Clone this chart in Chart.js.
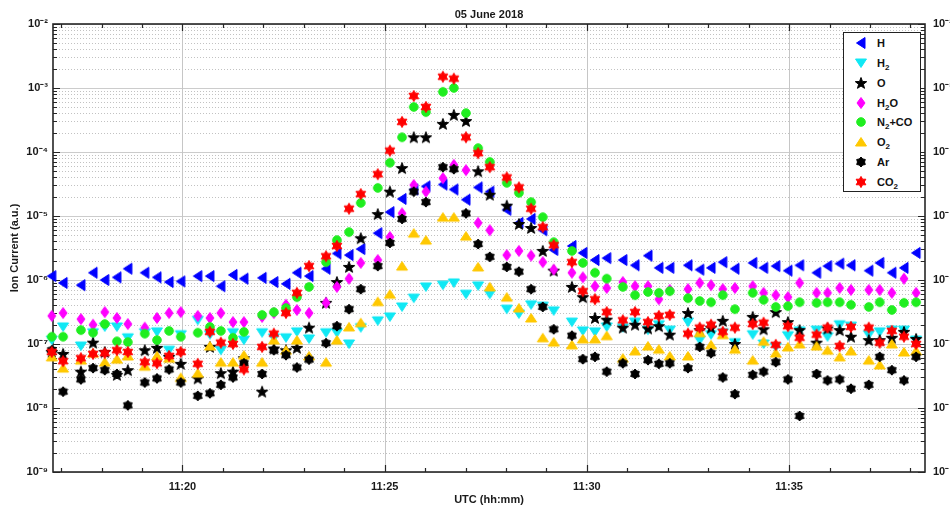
<!DOCTYPE html>
<html>
<head>
<meta charset="utf-8">
<script src="https://cdn.jsdelivr.net/npm/chart.js@4.4.1/dist/chart.umd.min.js"></script>
<style>
  html, body { margin: 0; padding: 0; background: #fff; }
  #wrap { position: relative; width: 950px; height: 511px; }
  #legend {
    position: absolute; left: 843px; top: 32px; width: 76px; height: 158px;
    border: 1.5px solid #222; background: #fff;
    font: bold 11px "Liberation Sans", Arial, sans-serif; color: #111;
  }
  .item { position: absolute; left: 0; width: 76px; height: 16px; line-height: 16px; }
  .item canvas { position: absolute; left: 10px; top: 1px; }
  .item span { position: absolute; left: 33px; white-space: nowrap; }
  sub { font-size: 8px; vertical-align: -3px; line-height: 0; }
</style>
</head>
<body>
<div id="wrap">
  <canvas id="ionChart" width="950" height="511"></canvas>
  <div id="legend"></div>
</div>
<script>
// sample times, minutes past 11:00 UTC
const minutes = [
    16.77, 17.05, 17.49, 17.79, 18.08, 18.38, 18.65, 19.07, 19.37, 19.67,
    19.96, 20.38, 20.68, 20.95, 21.25, 21.52, 21.97, 22.26, 22.56, 22.83,
    23.13, 23.55, 23.82, 24.12, 24.41, 24.83, 25.13, 25.43, 25.72, 26.02,
    26.44, 26.71, 27.01, 27.31, 27.60, 28.02, 28.32, 28.62, 28.91, 29.18,
    29.63, 29.90, 30.20, 30.49, 30.89, 31.19, 31.51, 31.78, 32.05, 32.50,
    32.79, 33.07, 33.36, 33.66, 34.10, 34.37, 34.67, 34.97, 35.26, 35.68,
    35.95, 36.25, 36.53, 36.97, 37.24, 37.54, 37.84, 38.14
];

const seriesNames = ['H', 'H2', 'O', 'H2O', 'N2+CO', 'O2', 'Ar', 'CO2'];

const ionH = [
    1.15e-6, 9.0e-7, 8.3e-7, 1.3e-6, 1.0e-6, 1.1e-6, 1.5e-6, 1.3e-6, 1.1e-6, 9.3e-7,
    9.5e-7, 1.15e-6, 1.15e-6, 8.0e-7, 1.2e-6, 1.05e-6, 1.08e-6, 9.3e-7, 8.7e-7, 1.3e-6,
    1.15e-6, 1.5e-6, 2.6e-6, 2.45e-6, 3.05e-6, 5.4e-6, 1.15e-5, 1.85e-5, 2.6e-5, 2.9e-5,
    3.1e-5, 2.6e-5, 1.8e-5, 2.8e-5, 2.4e-5, 1.25e-5, 7.8e-6, 9.0e-6, 6.0e-6, 2.95e-6,
    3.4e-6, 2.65e-6, 2.05e-6, 2.2e-6, 2.05e-6, 1.7e-6, 2.4e-6, 1.55e-6, 1.55e-6, 1.7e-6,
    1.45e-6, 1.55e-6, 1.9e-6, 1.5e-6, 1.85e-6, 1.55e-6, 1.65e-6, 1.4e-6, 1.7e-6, 1.3e-6,
    1.65e-6, 1.8e-6, 1.7e-6, 1.4e-6, 1.85e-6, 1.3e-6, 1.55e-6, 2.65e-6
];
const ionH2 = [
    1.15e-7, 1.85e-7, 9.3e-8, 1.5e-7, 1.85e-7, 1.85e-7, 1.25e-7, 1.5e-7, 1.55e-7, 8.0e-8,
    1.4e-7, 2.35e-7, 1.4e-7, 8.0e-8, 1.5e-7, 1.15e-7, 1.5e-7, 1.25e-7, 1.25e-7, 1.55e-7,
    1.2e-7, 1.5e-7, 1.5e-7, 1.0e-7, 1.8e-7, 2.3e-7, 2.65e-7, 3.8e-7, 5.2e-7, 7.8e-7,
    8.3e-7, 9.0e-7, 6.0e-7, 8.1e-7, 6.0e-7, 3.5e-7, 2.95e-7, 4.1e-7, 3.9e-7, 3.3e-7,
    2.2e-7, 1.6e-7, 1.55e-7, 1.85e-7, 1.8e-7, 2.2e-7, 1.65e-7, 2.0e-7, 1.65e-7, 2.2e-7,
    1.15e-7, 1.4e-7, 1.5e-7, 1.05e-7, 1.4e-7, 1.0e-7, 9.0e-8, 1.35e-7, 1.6e-7, 1.65e-7,
    1.3e-7, 2.0e-7, 1.9e-7, 1.4e-7, 1.55e-7, 1.65e-7, 1.65e-7, 1.15e-7
];
const ionO = [
    7.5e-8, 7.0e-8, 3.7e-8, 1.05e-7, 7.5e-8, 3.3e-8, 3.9e-8, 8.0e-8, 8.7e-8, 6.3e-8,
    4.9e-8, 2.9e-8, 9.0e-8, 3.5e-8, 3.7e-8, 6.0e-8, 1.8e-8, 8.5e-8, 8.0e-8, 8.7e-8,
    1.8e-7, 4.4e-7, 9.3e-7, 1.6e-6, 4.5e-6, 1.07e-5, 2.4e-5, 5.6e-5, 1.7e-4, 1.7e-4,
    2.75e-4, 3.8e-4, 3.05e-4, 5.0e-5, 2.15e-5, 1.45e-5, 7.5e-6, 6.5e-6, 2.85e-6, 1.4e-6,
    7.8e-7, 5.4e-7, 2.55e-7, 2.4e-7, 1.8e-7, 2.0e-7, 1.75e-7, 1.9e-7, 1.4e-7, 3.05e-7,
    1.65e-7, 1.8e-7, 2.3e-7, 1.0e-7, 2.65e-7, 1.7e-7, 3.15e-7, 2.2e-7, 1.65e-7, 1.05e-7,
    1.75e-7, 1.65e-7, 1.3e-7, 1.15e-7, 1.15e-7, 1.25e-7, 1.55e-7, 1.2e-7
];
const ionH2O = [
    2.75e-7, 3.05e-7, 2.45e-7, 2.0e-7, 3.15e-7, 2.55e-7, 2.05e-7, 1.8e-7, 2.55e-7, 3.05e-7,
    3.15e-7, 2.75e-7, 2.55e-7, 3.05e-7, 2.2e-7, 2.2e-7, 2.65e-7, 3.05e-7, 4.1e-7, 3.4e-7,
    3.05e-7, 4.4e-7, 7.8e-7, 1.05e-6, 1.85e-6, 2.05e-6, 4.7e-6, 1.1e-5, 3.05e-5, 2.4e-5,
    3.9e-5, 6.3e-5, 5.2e-5, 7.8e-6, 6.0e-6, 2.45e-6, 2.85e-6, 2.4e-6, 1.9e-6, 1.45e-6,
    1.3e-6, 1.1e-6, 8.0e-7, 7.5e-7, 9.3e-7, 8.0e-7, 8.0e-7, 5.0e-7, 7.0e-7, 7.2e-7,
    9.0e-7, 8.3e-7, 7.2e-7, 7.5e-7, 8.0e-7, 6.3e-7, 5.8e-7, 5.4e-7, 9.0e-7, 6.3e-7,
    6.3e-7, 7.5e-7, 7.0e-7, 7.0e-7, 7.0e-7, 6.3e-7, 1.05e-6, 6.3e-7
];
const ionN2CO = [
    1.3e-7, 1.3e-7, 1.65e-7, 1.5e-7, 2.05e-7, 1.1e-7, 1.07e-7, 1.45e-7, 1.15e-7, 1.6e-7,
    1.3e-7, 1.5e-7, 1.85e-7, 1.6e-7, 1.25e-7, 1.55e-7, 2.85e-7, 3.15e-7, 3.65e-7, 5.4e-7,
    7.8e-7, 1.9e-6, 4.2e-6, 5.6e-6, 1.6e-5, 2.75e-5, 6.8e-5, 1.7e-4, 5.05e-4, 4.2e-4,
    8.7e-4, 1.0e-3, 4.05e-4, 1.15e-4, 7.0e-5, 3.3e-5, 2.3e-5, 1.65e-5, 9.6e-6, 3.9e-6,
    2.85e-6, 1.85e-6, 1.3e-6, 1.05e-6, 7.8e-7, 5.8e-7, 6.5e-7, 6.3e-7, 6.7e-7, 5.2e-7,
    4.7e-7, 4.5e-7, 5.8e-7, 3.5e-7, 6.3e-7, 4.9e-7, 3.8e-7, 3.9e-7, 4.5e-7, 4.4e-7,
    4.5e-7, 4.5e-7, 4.1e-7, 3.8e-7, 4.5e-7, 3.4e-7, 4.4e-7, 4.5e-7
];
const ionO2 = [
    6.3e-8, 4.2e-8, 5.6e-8, 7.2e-8, 5.2e-8, 5.8e-8, 6.5e-8, 4.5e-8, 6.5e-8, 6.0e-8,
    3.0e-8, 3.5e-8, 9.3e-8, 5.2e-8, 5.2e-8, 6.7e-8, 5.2e-8, 1.15e-7, 8.0e-8, 1.15e-7,
    6.5e-8, 5.2e-8, 1.15e-7, 1.85e-7, 2.15e-7, 4.6e-7, 6.0e-7, 1.65e-6, 5.4e-6, 4.2e-6,
    9.6e-6, 9.6e-6, 4.85e-6, 1.6e-6, 7.8e-7, 5.4e-7, 3.65e-7, 2.55e-7, 1.25e-7, 1.07e-7,
    9.7e-8, 1.2e-7, 1.2e-7, 1.35e-7, 6.0e-8, 7.8e-8, 9.3e-8, 8.3e-8, 6.5e-8, 6.5e-8,
    1.5e-7, 9.7e-8, 1.4e-7, 8.3e-8, 5.6e-8, 1.1e-7, 7.2e-8, 9.0e-8, 1.0e-7, 9.3e-8,
    8.0e-8, 6.3e-8, 7.8e-8, 5.6e-8, 4.7e-8, 1.0e-7, 7.5e-8, 7.8e-8
];
const ionAr = [
    8.0e-8, 1.8e-8, 2.8e-8, 4.2e-8, 3.9e-8, 3.4e-8, 1.1e-8, 2.5e-8, 2.9e-8, 4.0e-8,
    2.5e-8, 1.55e-8, 1.7e-8, 2.3e-8, 3.0e-8, 5.0e-8, 3.4e-8, 8.0e-8, 6.7e-8, 4.3e-8,
    5.7e-8, 1.03e-7, 1.9e-7, 3.5e-7, 7.2e-7, 1.65e-6, 3.8e-6, 9.0e-6, 2.4e-5, 1.65e-5,
    5.8e-5, 5.4e-5, 1.1e-5, 3.65e-6, 2.3e-6, 1.6e-6, 1.35e-6, 7.2e-7, 3.8e-7, 1.7e-7,
    1.35e-7, 5.8e-8, 6.3e-8, 3.7e-8, 5.0e-8, 3.4e-8, 5.6e-8, 4.9e-8, 5.0e-8, 4.2e-8,
    9.0e-8, 7.2e-8, 3.0e-8, 1.65e-8, 3.3e-8, 3.7e-8, 5.2e-8, 2.8e-8, 7.5e-9, 3.4e-8,
    2.7e-8, 2.8e-8, 2.0e-8, 2.3e-8, 6.3e-8, 3.9e-8, 2.7e-8, 6.3e-8
];
const ionCO2 = [
    7.5e-8, 5.4e-8, 6.0e-8, 7.0e-8, 7.2e-8, 8.0e-8, 7.5e-8, 5.2e-8, 5.0e-8, 6.5e-8,
    7.5e-8, 4.9e-8, 1.55e-7, 1.05e-7, 1.0e-7, 4.0e-8, 9.0e-8, 1.45e-7, 3.05e-7, 6.3e-7,
    1.65e-6, 2.35e-6, 3.4e-6, 1.3e-5, 2.2e-5, 4.5e-5, 1.05e-4, 2.95e-4, 7.5e-4, 5.05e-4,
    1.5e-3, 1.4e-3, 1.7e-4, 9.6e-5, 5.8e-5, 4.0e-5, 2.8e-5, 1.3e-5, 6.7e-6, 3.5e-6,
    1.9e-6, 6.7e-7, 5.0e-7, 3.15e-7, 2.35e-7, 3.15e-7, 2.2e-7, 2.75e-7, 2.85e-7, 1.45e-7,
    1.8e-7, 2.0e-7, 1.55e-7, 1.8e-7, 2.05e-7, 2.15e-7, 9.7e-8, 1.9e-7, 1.25e-7, 1.4e-7,
    1.8e-7, 9.3e-8, 1.85e-7, 1.8e-7, 1.05e-7, 1.6e-7, 1.3e-7, 1.0e-7
];

const seriesValues = [ionH, ionH2, ionO, ionH2O, ionN2CO, ionO2, ionAr, ionCO2];
const seriesColors = ['#0000ff', '#10e8f4', '#000000', '#ff00ff', '#1fee1f', '#ffc800', '#000000', '#ff0000'];
const seriesShapes = ['left', 'down', 'pentagram', 'diamond', 'circle', 'up', 'hexfat', 'hexagram'];

const FONT = '"Liberation Sans", Arial, sans-serif';

function starPath(g, cx, cy, n, outer, inner) {
    for (let k = 0; k < n * 2; k++) {
        const r = k % 2 === 0 ? outer : inner;
        const a = -Math.PI / 2 + k * Math.PI / n;
        const px = cx + r * Math.cos(a);
        const py = cy + r * Math.sin(a);
        if (k === 0) g.moveTo(px, py); else g.lineTo(px, py);
    }
}

function makeMarker(shape, color) {
    const c = document.createElement('canvas');
    c.width = 14;
    c.height = 14;
    const g = c.getContext('2d');
    const cx = 7, cy = 7;
    g.fillStyle = color;
    g.strokeStyle = color;
    g.lineWidth = 1;
    g.beginPath();
    switch (shape) {
        case 'left':
            g.moveTo(cx + 4, cy - 5.5); g.lineTo(cx + 4, cy + 5.5); g.lineTo(cx - 4.5, cy);
            break;
        case 'down':
            g.moveTo(cx - 5.5, cy - 4); g.lineTo(cx + 5.5, cy - 4); g.lineTo(cx, cy + 4.5);
            break;
        case 'up':
            g.moveTo(cx - 5.5, cy + 4); g.lineTo(cx + 5.5, cy + 4); g.lineTo(cx, cy - 4.5);
            break;
        case 'diamond':
            g.moveTo(cx, cy - 5.5); g.lineTo(cx + 4, cy); g.lineTo(cx, cy + 5.5); g.lineTo(cx - 4, cy);
            break;
        case 'circle':
            g.arc(cx, cy, 4.3, 0, Math.PI * 2);
            break;
        case 'pentagram':
            starPath(g, cx, cy + 0.5, 5, 6, 2.5);
            break;
        case 'hexfat':
            starPath(g, cx, cy, 6, 5.0, 3.5);
            break;
        case 'hexagram':
            starPath(g, cx, cy, 6, 5.6, 3.2);
            break;
    }
    g.closePath();
    g.fill();
    g.stroke();
    return c;
}

const markers = seriesShapes.map((s, i) => makeMarker(s, seriesColors[i]));

const isDecade = (v) => {
    const e = Math.round(Math.log10(v));
    return Math.abs(v - Math.pow(10, e)) < Math.pow(10, e) * 1e-6;
};

const SUP = { '-': '\u207B', '0': '\u2070', '1': '\u00B9', '2': '\u00B2', '3': '\u00B3', '4': '\u2074',
    '5': '\u2075', '6': '\u2076', '7': '\u2077', '8': '\u2078', '9': '\u2079' };

function decadeLabel(value) {
    if (!isDecade(value)) return '';
    const e = String(Math.round(Math.log10(value)));
    return '10' + e.split('').map(ch => SUP[ch]).join('');
}

function logTicks(scale) {
    const ticks = [];
    for (let e = -9; e < -2; e++) {
        for (let m = 1; m <= 9; m++) {
            ticks.push({ value: Number((m * Math.pow(10, e)).toPrecision(3)) });
        }
    }
    ticks.push({ value: 1e-2 });
    scale.ticks = ticks;
}

// grid, box and inward tick marks
const framePlugin = {
    id: 'frame',
    beforeDatasetsDraw(chart) {
        const { ctx, chartArea: a, scales } = chart;
        const x = scales.x, y = scales.y;
        ctx.save();
        ctx.lineWidth = 1;
        y.ticks.forEach(t => {
            const py = Math.round(y.getPixelForValue(t.value)) + 0.5;
            if (isDecade(t.value)) {
                ctx.setLineDash([]);
                ctx.strokeStyle = '#cccccc';
            } else {
                ctx.setLineDash([1, 2]);
                ctx.strokeStyle = '#c2c2c2';
            }
            ctx.beginPath();
            ctx.moveTo(a.left, py);
            ctx.lineTo(a.right, py);
            ctx.stroke();
        });
        ctx.setLineDash([]);
        ctx.strokeStyle = '#c6c6c6';
        x.ticks.forEach(t => {
            if (t.value % 5 !== 0) return;
            const px = Math.round(x.getPixelForValue(t.value)) + 0.5;
            ctx.beginPath();
            ctx.moveTo(px, a.top);
            ctx.lineTo(px, a.bottom);
            ctx.stroke();
        });

        ctx.strokeStyle = '#262626';
        ctx.lineWidth = 1.2;
        x.ticks.forEach(t => {
            const px = Math.round(x.getPixelForValue(t.value)) + 0.5;
            const len = t.value % 5 === 0 ? 7 : 4;
            ctx.beginPath();
            ctx.moveTo(px, a.bottom); ctx.lineTo(px, a.bottom - len);
            ctx.moveTo(px, a.top); ctx.lineTo(px, a.top + len);
            ctx.stroke();
        });
        y.ticks.forEach(t => {
            const py = Math.round(y.getPixelForValue(t.value)) + 0.5;
            const len = isDecade(t.value) ? 7 : 4;
            ctx.beginPath();
            ctx.moveTo(a.left, py); ctx.lineTo(a.left + len, py);
            ctx.moveTo(a.right, py); ctx.lineTo(a.right - len, py);
            ctx.stroke();
        });
        ctx.lineWidth = 1.6;
        ctx.strokeRect(a.left, a.top, a.right - a.left, a.bottom - a.top);
        ctx.restore();
    }
};

const tickFont = { family: FONT, size: 11, weight: 'bold' };

const datasets = seriesNames.map((name, i) => ({
    label: name,
    data: minutes.map((m, j) => ({ x: m, y: seriesValues[i][j] })).filter(p => p.y != null),
    pointStyle: markers[i],
    pointRadius: 5,
    pointHoverRadius: 5,
    backgroundColor: seriesColors[i],
    borderColor: seriesColors[i],
    order: seriesNames.length - i,
    clip: false,
}));

new Chart(document.getElementById('ionChart'), {
    type: 'scatter',
    data: { datasets },
    plugins: [framePlugin],
    options: {
        responsive: false,
        animation: false,
        devicePixelRatio: 1,
        layout: { padding: 0 },
        scales: {
            x: {
                type: 'linear',
                position: 'bottom',
                min: 16.8,
                max: 38.36,
                afterFit: (s) => { s.height = 39; },
                grid: { display: false, drawTicks: false },
                border: { display: false },
                ticks: {
                    stepSize: 1,
                    includeBounds: false,
                    autoSkip: false,
                    maxRotation: 0,
                    padding: 8,
                    color: '#1a1a1a',
                    font: tickFont,
                    callback: (v) => (v % 5 === 0 ? '11:' + v : ''),
                },
                title: { display: true, text: 'UTC (hh:mm)', color: '#1a1a1a', font: tickFont, padding: { top: 4 } },
            },
            y: {
                type: 'logarithmic',
                position: 'left',
                min: 1e-9,
                max: 1e-2,
                afterBuildTicks: logTicks,
                afterFit: (s) => { s.width = 53; },
                grid: { display: false, drawTicks: false },
                border: { display: false },
                ticks: { autoSkip: false, padding: 5, color: '#1a1a1a', font: tickFont, callback: decadeLabel },
                title: { display: true, text: 'Ion Current (a.u.)', color: '#1a1a1a', font: tickFont, padding: { top: 8 } },
            },
            y2: {
                type: 'logarithmic',
                position: 'right',
                min: 1e-9,
                max: 1e-2,
                afterBuildTicks: logTicks,
                afterFit: (s) => { s.width = 25; },
                grid: { display: false, drawTicks: false },
                border: { display: false },
                ticks: { autoSkip: false, padding: 8, color: '#1a1a1a', font: tickFont, callback: decadeLabel },
            },
        },
        plugins: {
            legend: { display: false },
            tooltip: { enabled: false },
            title: {
                display: true,
                text: '05 June 2018',
                fullSize: false,
                color: '#1a1a1a',
                font: { family: FONT, size: 11, weight: 'bold', lineHeight: 1.2 },
                padding: { top: 8, bottom: 2.8 },
            },
        },
    },
});

// legend box, top right inside the plot
const legendBox = document.getElementById('legend');
seriesNames.forEach((name, i) => {
    const row = document.createElement('div');
    row.className = 'item';
    row.style.top = (2 + i * 19.85) + 'px';
    row.appendChild(makeMarker(seriesShapes[i], seriesColors[i]));
    const label = document.createElement('span');
    label.innerHTML = name.replace(/([A-Z])(\d)/g, '$1<sub>$2</sub>');
    row.appendChild(label);
    legendBox.appendChild(row);
});
</script>
</body>
</html>
